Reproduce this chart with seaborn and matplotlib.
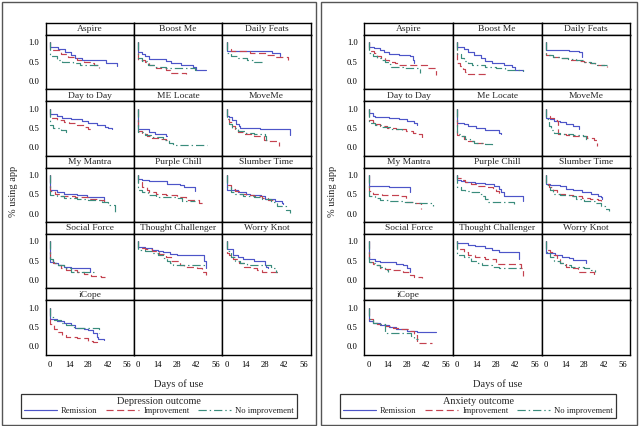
import matplotlib
matplotlib.use("Agg")
import matplotlib.pyplot as plt
import seaborn as sns
import pandas as pd
from matplotlib.lines import Line2D
from matplotlib.patches import Rectangle

# ---------------- data ----------------
apps = ["Aspire", "Boost Me", "Daily Feats", "Day to Day", "ME Locate", "MoveMe",
        "My Mantra", "Purple Chill", "Slumber Time", "Social Force",
        "Thought Challenger", "Worry Knot", "iCope"]
apps_anx = ["Aspire", "Boost Me", "Daily Feats", "Day to Day", "Me Locate", "MoveMe",
            "My Mantra", "Purple Chill", "Slumber Time", "Social Force",
            "Thought Challenger", "Worry Knot", "iCope"]
groups = ["Remission", "Improvement", "No improvement"]
x_ticks = [0, 14, 28, 42, 56]
y_ticks = [0.0, 0.5, 1.0]

# each: [Remission, Improvement, No improvement] as (day, proportion) steps
dep_aspire = [
    [(0, 1), (0, .88), (6, .82), (11, .75), (15, .68), (18, .6), (23, .55), (41, .47), (49, .38)],
    [(0, 1), (0, .8), (8, .7), (13, .62), (20, .55), (25, .5), (29, .45), (32, .4), (36, .33)],
    [(0, 1), (0, .65), (5, .55), (9, .5), (17, .45), (22, .42), (36, .35)]]
dep_boost = [
    [(0, 1), (0, .75), (3, .7), (5, .65), (8, .57), (20, .52), (24, .46), (31, .4), (40, .35), (42, .27), (49, .27)],
    [(0, 1), (0, .55), (5, .48), (8, .4), (13, .33), (20, .28), (23, .2), (35, .18)],
    [(0, 1), (0, .6), (3, .52), (7, .42), (12, .36), (20, .33), (41, .28), (42, .2)]]
dep_daily = [
    [(0, 1), (0, .78), (33, .72), (39, .65)],
    [(0, 1), (0, .83), (3, .78), (17, .72), (29, .67), (35, .62), (45, .55)],
    [(0, 1), (0, .72), (3, .65), (8, .6), (15, .55), (20, .5), (27, .48)]]
dep_daytoday = [
    [(0, 1), (0, .85), (5, .82), (9, .77), (15, .72), (23, .68), (28, .63), (34, .58), (40, .53), (42, .5), (45, .47)],
    [(0, 1), (0, .75), (5, .7), (10, .66), (14, .62), (20, .58), (25, .53), (28, .48), (30, .45)],
    [(0, 1), (0, .58), (2, .5), (8, .45), (12, .4), (13, .38)]]
dep_melocate = [
    [(0, 1), (0, .47), (8, .4), (12, .35), (20, .28), (21, .28)],
    [(0, 1), (0, .42), (3, .35), (6, .3), (10, .25), (15, .22), (20, .18), (21, .18)],
    [(0, 1), (0, .4), (5, .32), (10, .27), (18, .2), (22, .12), (25, .07), (50, .07)]]
dep_moveme = [
    [(0, 1), (0, .8), (2, .78), (4, .7), (7, .6), (9, .55), (10, .5), (24, .48), (46, .32)],
    [(0, 1), (0, .72), (2, .65), (4, .55), (6, .45), (8, .4), (12, .35), (20, .3), (27, .2), (30, .17), (38, .03)],
    [(0, 1), (0, .75), (2, .6), (4, .5), (8, .42), (14, .38), (20, .35), (28, .3), (29, .15)]]
dep_mantra = [
    [(0, 1), (0, .6), (5, .55), (10, .5), (20, .47), (27, .42), (39, .32)],
    [(0, 1), (0, .58), (4, .5), (8, .45), (18, .42), (28, .38), (35, .35), (39, .25)],
    [(0, 1), (0, .48), (5, .45), (10, .4), (20, .37), (28, .35), (38, .3), (42, .22), (47, .05)]]
dep_purple = [
    [(0, 1), (0, .9), (3, .88), (8, .85), (21, .78), (30, .73), (33, .68), (41, .58)],
    [(0, 1), (0, .83), (3, .7), (6, .62), (8, .55), (13, .52), (20, .47), (28, .42), (35, .35), (44, .28), (48, .25)],
    [(0, 1), (0, .62), (3, .55), (7, .47), (13, .43), (28, .4), (32, .32), (41, .32)]]
dep_slumber = [
    [(0, 1), (0, .62), (3, .6), (8, .55), (14, .5), (17, .47), (25, .45), (28, .38), (35, .33), (40, .28), (41, .25)],
    [(0, 1), (0, .75), (3, .65), (6, .58), (10, .52), (14, .47), (20, .45), (26, .4), (30, .35), (34, .32)],
    [(0, 1), (0, .7), (3, .55), (6, .5), (12, .45), (20, .42), (26, .38), (32, .3), (37, .2), (43, .1), (46, .02)]]
dep_social = [
    [(0, 1), (0, .47), (3, .45), (6, .4), (10, .35), (15, .32), (22, .3), (29, .2)],
    [(0, 1), (0, .52), (2, .45), (5, .38), (8, .32), (12, .25), (20, .2), (25, .15), (30, .1), (37, .08), (40, .07)],
    [(0, 1), (0, .55), (2, .45), (6, .38), (10, .3), (15, .22), (25, .2), (32, .15)]]
dep_thought = [
    [(0, 1), (0, .85), (5, .82), (10, .78), (14, .75), (18, .72), (23, .68), (28, .65), (48, .5), (49, .3)],
    [(0, 1), (0, .83), (5, .8), (10, .75), (15, .68), (20, .6), (24, .5), (30, .4), (33, .35), (43, .3), (46, .2), (49, .12)],
    [(0, 1), (0, .78), (5, .75), (10, .7), (14, .65), (18, .57), (21, .5), (23, .45), (25, .38), (48, .3)]]
dep_worry = [
    [(0, 1), (0, .8), (5, .65), (8, .6), (12, .55), (20, .5), (28, .4), (29, .35), (30, .3)],
    [(0, 1), (0, .7), (2, .65), (5, .55), (9, .45), (13, .35), (17, .3), (22, .25), (26, .2), (38, .18)],
    [(0, 1), (0, .75), (3, .6), (6, .5), (10, .45), (15, .4), (22, .38), (32, .35), (33, .3), (36, .2), (37, .2)]]
dep_icope = [
    [(0, 1), (0, .7), (5, .65), (10, .62), (15, .55), (18, .47), (25, .45), (28, .42), (31, .35), (34, .25), (35, .19), (39, .17)],
    [(0, 1), (0, .58), (3, .45), (6, .38), (9, .3), (12, .25), (20, .22), (28, .15), (31, .12), (34, .08)],
    [(0, 1), (0, .75), (3, .68), (8, .6), (12, .55), (16, .5), (20, .48), (36, .35)]]

anx_aspire = [
    [(0, 1), (0, .88), (4, .85), (8, .8), (11, .75), (15, .7), (22, .68), (30, .65), (32, .55), (33, .45)],
    [(0, 1), (0, .78), (4, .72), (6, .65), (9, .58), (12, .55), (15, .5), (19, .47), (22, .42), (42, .32), (49, .15)],
    [(0, 1), (0, .72), (3, .65), (6, .6), (9, .55), (12, .5), (15, .43), (16, .37), (25, .33), (36, .3), (37, .2)]]
anx_boost = [
    [(0, 1), (0, .88), (5, .82), (8, .75), (12, .68), (17, .6), (20, .52), (25, .45), (34, .4), (40, .35), (42, .28), (48, .25)],
    [(0, 1), (0, .45), (2, .38), (4, .3), (6, .22), (8, .18), (21, .17)],
    [(0, 1), (0, .7), (3, .6), (5, .52), (8, .45), (11, .4), (20, .37), (28, .32), (35, .28), (48, .25)]]
anx_daily = [
    [(0, 1), (0, .8), (17, .78), (24, .75), (26, .62)],
    [(0, 1), (0, .68), (5, .62), (10, .58), (16, .55), (24, .52), (28, .48), (32, .45), (36, .4), (44, .35)],
    [(0, 1), (0, .68), (5, .62), (10, .6), (16, .57), (22, .55), (28, .48), (33, .45), (37, .42), (44, .42)]]
anx_daytoday = [
    [(0, 1), (0, .9), (3, .82), (5, .78), (15, .75), (22, .72), (28, .68), (33, .63), (35, .58)],
    [(0, 1), (0, .7), (3, .65), (5, .6), (8, .55), (13, .5), (20, .47), (27, .42), (32, .38), (36, .33), (39, .25)],
    [(0, 1), (0, .62), (5, .58), (10, .52), (16, .47), (24, .45)]]
anx_melocate = [
    [(0, 1), (0, .62), (5, .6), (8, .55), (14, .5), (20, .45), (30, .38), (32, .35)],
    [(0, 1), (0, .32), (3, .28), (5, .22), (8, .15), (13, .12), (20, .1), (21, .1)],
    [(0, 1), (0, .35), (3, .3), (6, .22), (9, .15), (12, .12), (20, .08), (25, .05), (27, .05)]]
anx_moveme = [
    [(0, 1), (0, .75), (3, .72), (6, .68), (10, .65), (15, .6), (20, .55), (24, .48)],
    [(0, 1), (0, .8), (3, .75), (6, .7), (8, .68), (9, .35), (15, .32), (20, .3), (26, .28), (30, .25), (35, .2), (37, .03)],
    [(0, 1), (0, .72), (2, .55), (4, .45), (6, .38), (10, .35), (20, .32), (27, .3), (29, .15)]]
anx_mantra = [
    [(0, 1), (0, .72), (15, .7), (30, .55)],
    [(0, 1), (0, .58), (3, .5), (10, .47), (22, .45), (27, .3), (33, .28), (38, .12)],
    [(0, 1), (0, .45), (5, .4), (8, .35), (15, .33), (25, .3), (33, .28), (47, .2)]]
anx_purple = [
    [(0, 1), (0, .88), (3, .85), (6, .82), (13, .8), (20, .78), (27, .72), (30, .65), (32, .55), (34, .45), (48, .32)],
    [(0, 1), (0, .93), (3, .88), (6, .82), (10, .78), (15, .72), (20, .68), (26, .65), (28, .58), (30, .5)],
    [(0, 1), (0, .68), (3, .62), (6, .58), (10, .55), (16, .5), (18, .45), (20, .38), (22, .3), (41, .25)]]
anx_slumber = [
    [(0, 1), (0, .78), (3, .75), (10, .72), (15, .65), (20, .6), (26, .55), (33, .5), (38, .45), (40, .42), (41, .38)],
    [(0, 1), (0, .78), (2, .7), (5, .6), (8, .52), (14, .48), (20, .45), (26, .4), (32, .38), (38, .35), (40, .32)],
    [(0, 1), (0, .75), (3, .6), (5, .52), (10, .48), (18, .45), (22, .38), (28, .32), (36, .28), (40, .2), (43, .12), (46, .08)]]
anx_social = [
    [(0, 1), (0, .55), (5, .5), (8, .47), (20, .42), (25, .38), (28, .32), (30, .22)],
    [(0, 1), (0, .48), (3, .42), (5, .38), (8, .32), (12, .28), (18, .25), (25, .2), (30, .12), (33, .07), (39, .05)],
    [(0, 1), (0, .48), (3, .45), (5, .4), (8, .33), (12, .25), (14, .2)]]
anx_thought = [
    [(0, 1), (0, .95), (8, .92), (13, .88), (20, .82), (25, .78), (30, .72), (45, .55)],
    [(0, 1), (0, .8), (5, .72), (8, .65), (13, .6), (20, .55), (28, .42), (46, .3), (48, .1)],
    [(0, 1), (0, .65), (5, .6), (10, .5), (15, .45), (18, .4), (25, .35), (30, .32), (48, .3)]]
anx_worry = [
    [(0, 1), (0, .7), (7, .65), (12, .6), (17, .58), (20, .52), (29, .45)],
    [(0, 1), (0, .78), (3, .72), (5, .65), (8, .55), (10, .45), (15, .35), (20, .3), (23, .2), (35, .1)],
    [(0, 1), (0, .72), (3, .6), (6, .5), (10, .45), (14, .4), (18, .35), (28, .3), (33, .25), (36, .2)]]
anx_icope = [
    [(0, 1), (0, .65), (3, .6), (8, .55), (15, .5), (20, .45), (28, .4), (35, .37), (49, .37)],
    [(0, 1), (0, .7), (3, .62), (6, .58), (12, .52), (18, .48), (22, .45), (30, .4), (33, .3), (35, .1), (46, .08)],
    [(0, 1), (0, .7), (3, .62), (8, .58), (12, .35), (29, .35), (31, .28), (33, .2), (36, .2)]]

dep_curves = [dep_aspire, dep_boost, dep_daily, dep_daytoday, dep_melocate, dep_moveme,
              dep_mantra, dep_purple, dep_slumber, dep_social, dep_thought, dep_worry, dep_icope]
anx_curves = [anx_aspire, anx_boost, anx_daily, anx_daytoday, anx_melocate, anx_moveme,
              anx_mantra, anx_purple, anx_slumber, anx_social, anx_thought, anx_worry, anx_icope]

# ---------------- style ----------------
sns.set_theme(style="white")
plt.rcParams["font.family"] = ["Liberation Serif", "DejaVu Serif"]
plt.rcParams["axes.linewidth"] = 1.0

colors = {"Remission": "#4d55c8", "Improvement": "#c4424f", "No improvement": "#3a8c7c"}
lstyles = {"Remission": "-", "Improvement": (0, (6, 3)), "No improvement": (0, (7, 2.5, 1.2, 2.5))}

W, H = 639, 426
fig = plt.figure(figsize=(W / 100, H / 100), dpi=100)


def rect(x0, y0, w, h):
    return [x0 / W, 1 - (y0 + h) / H, w / W, h / H]


TOP, RH, HH = 22.7, 66.4, 12.0
panels = [("Depression outcome", apps, dep_curves, 45.7, 88.3, 1.5, 316.0),
          ("Anxiety outcome", apps_anx, anx_curves, 364.3, 88.6, 320.8, 636.5)]

for title, names, curves, left, cw, bx0, bx1 in panels:
    # panel frame
    fig.patches.append(Rectangle((bx0 / W, 1 - 424.5 / H), (bx1 - bx0) / W, 423.0 / H,
                                 transform=fig.transFigure, fill=False,
                                 edgecolor="#555555", lw=1.0))
    for idx in range(15):
        r, c = divmod(idx, 3)
        x0 = left + c * cw
        y0 = TOP + r * RH
        hax = fig.add_axes(rect(x0, y0, cw, HH))
        hax.set_xticks([]); hax.set_yticks([])
        for s in hax.spines.values():
            s.set_color("black"); s.set_linewidth(1.0)
        if idx < len(names):
            hax.text(0.5, 0.45, names[idx], ha="center", va="center", fontsize=6.8,
                     transform=hax.transAxes)
        ax = fig.add_axes(rect(x0, y0 + HH, cw, RH - HH))
        for s in ax.spines.values():
            s.set_color("black"); s.set_linewidth(1.0)
        if idx < len(curves):
            for g, pts in zip(groups, curves[idx]):
                df = pd.DataFrame(pts, columns=["day", "pct"])
                sns.lineplot(data=df, x="day", y="pct", ax=ax, color=colors[g],
                             linestyle=lstyles[g], drawstyle="steps-post", sort=False,
                             estimator=None, errorbar=None, lw=0.85, legend=False)
        ax.set_xlim(-3.1, 61.1)
        ax.set_ylim(-0.215, 1.196)
        ax.set_xlabel(""); ax.set_ylabel("")
        ax.tick_params(axis="both", direction="out", length=2.5, width=0.7,
                       labelsize=6.2, pad=2.3, colors="black")
        if c == 0:
            ax.set_yticks(y_ticks)
            ax.set_yticklabels([f"{v:.1f}" for v in y_ticks])
        else:
            ax.set_yticks([])
        if r == 4:
            ax.set_xticks(x_ticks)
            ax.set_xticklabels([str(v) for v in x_ticks])
        else:
            ax.set_xticks([])
    gx_mid = left + 1.5 * cw
    fig.text(gx_mid / W, 1 - 384 / H, "Days of use", ha="center", va="center", fontsize=7.6)
    fig.text((bx0 + 12) / W, 1 - 191 / H, "% using app", ha="center", va="center",
             rotation=90, fontsize=7.4)
    handles = [Line2D([], [], color=colors[g], linestyle=lstyles[g], lw=0.85) for g in groups]
    leg = fig.legend(handles, groups, title=title, loc="center",
                     bbox_to_anchor=(gx_mid / W - 0.030, 1 - 406 / H), ncol=3,
                     fontsize=6.2, title_fontsize=7.4, frameon=True, fancybox=False,
                     edgecolor="black", handlelength=3.8, columnspacing=1.0,
                     handletextpad=0.5, borderpad=0.35, labelspacing=0.2)
    leg.get_frame().set_linewidth(0.9)

fig.savefig("out.png", dpi=100)
